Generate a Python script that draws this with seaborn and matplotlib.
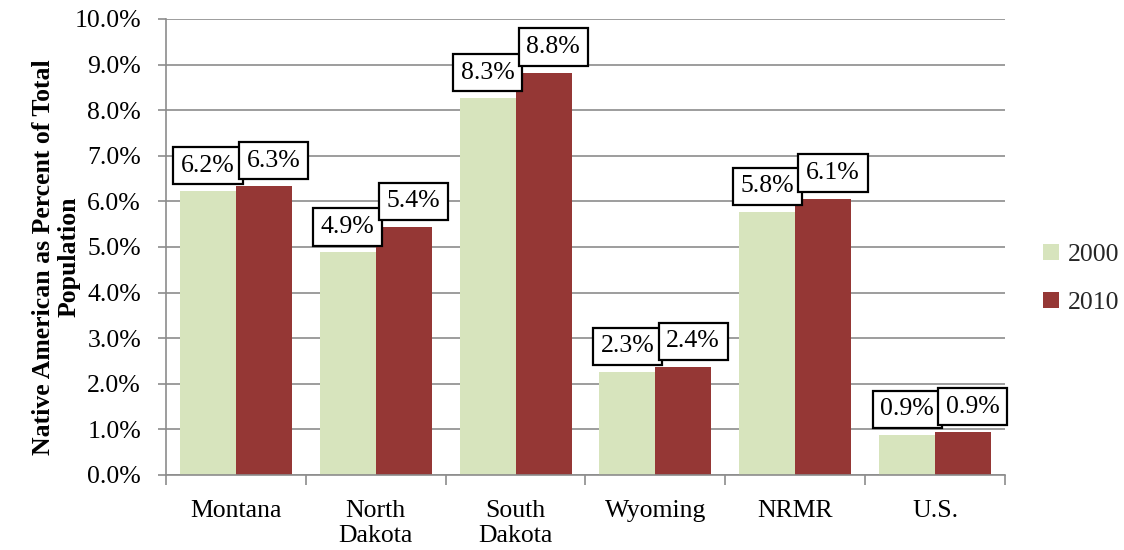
import matplotlib
matplotlib.use("Agg")
import matplotlib.pyplot as plt
import seaborn as sns
import pandas as pd
from matplotlib.ticker import FixedLocator, FuncFormatter

# Native American share of total population, percent
regions = ["Montana", "North\nDakota", "South\nDakota", "Wyoming", "NRMR", "U.S."]
years = ["2000", "2010"]
pct_2000 = [6.22, 4.88, 8.26, 2.26, 5.77, 0.88]
pct_2010 = [6.33, 5.44, 8.82, 2.37, 6.06, 0.94]
y_ticks = [0, 1, 2, 3, 4, 5, 6, 7, 8, 9, 10]

colors = {"2000": "#D7E4BD", "2010": "#953735"}

df = pd.DataFrame({
    "region": regions * 2,
    "year": [years[0]] * len(regions) + [years[1]] * len(regions),
    "pct": pct_2000 + pct_2010,
})

sns.set_theme(style="white")
plt.rcParams["font.family"] = ["Liberation Serif", "DejaVu Serif"]

FS = 18.5

fig = plt.figure(figsize=(11.24, 5.5), dpi=100)
ax = fig.add_axes([0.1477, 0.1364, 0.7464, 0.8291])

sns.barplot(data=df, x="region", y="pct", hue="year", order=regions,
            hue_order=years, palette=colors, width=0.8, saturation=1,
            edgecolor="none", linewidth=0, ax=ax, zorder=2)

ax.set_ylim(0, 10)
ax.set_xlim(-0.5, len(regions) - 0.5)
ax.yaxis.set_major_locator(FixedLocator(y_ticks))
ax.yaxis.set_major_formatter(FuncFormatter(lambda v, _: f"{v:.1f}%"))
ax.grid(axis="y", color="#8c8c8c", linewidth=1.2, zorder=0)
ax.set_axisbelow(True)

for side in ["top", "right"]:
    ax.spines[side].set_visible(False)
for side in ["left", "bottom"]:
    ax.spines[side].set_color("#8c8c8c")
    ax.spines[side].set_linewidth(1.2)

ax.tick_params(axis="y", which="major", direction="out", length=6, width=1.2,
               color="#8c8c8c", labelsize=FS, labelcolor="black", pad=12, left=True)

# category labels sit between boundary tick marks
ax.set_xticks(range(len(regions)))
ax.set_xticklabels(regions, fontsize=FS, color="black", linespacing=1.2, va="top")
ax.tick_params(axis="x", which="major", length=0, pad=18)
ax.set_xticks([i - 0.5 for i in range(len(regions) + 1)], minor=True)
ax.tick_params(axis="x", which="minor", direction="out", length=7, width=1.2,
               color="#8c8c8c", bottom=True)

ax.set_xlabel("")
ax.set_ylabel("Native American as Percent of Total\nPopulation", fontsize=FS,
              fontweight="bold", color="black", linespacing=1.15)
ax.yaxis.set_label_coords(-0.102, 0.478)

# boxed value labels above each bar
box = dict(boxstyle="square,pad=0.3", facecolor="white", edgecolor="black",
           linewidth=1.6)
shifts = {"2000": 0, "2010": 7}
for container, yr in zip(ax.containers, years):
    for bar in container:
        h = bar.get_height()
        xc = bar.get_x() + bar.get_width() / 2
        ax.annotate(f"{h:.1f}%", xy=(xc, h), xytext=(shifts[yr], 10.5),
                    textcoords="offset points", ha="center", va="bottom",
                    fontsize=FS, color="black", bbox=box,
                    zorder=4 if yr == "2010" else 3)

leg = ax.legend(loc="center left", bbox_to_anchor=(1.018, 0.43), frameon=False,
                fontsize=FS, handlelength=0.6, handleheight=0.6,
                handletextpad=0.35, labelspacing=1.0)
leg.set_title(None)

fig.savefig("out.png", dpi=100)
